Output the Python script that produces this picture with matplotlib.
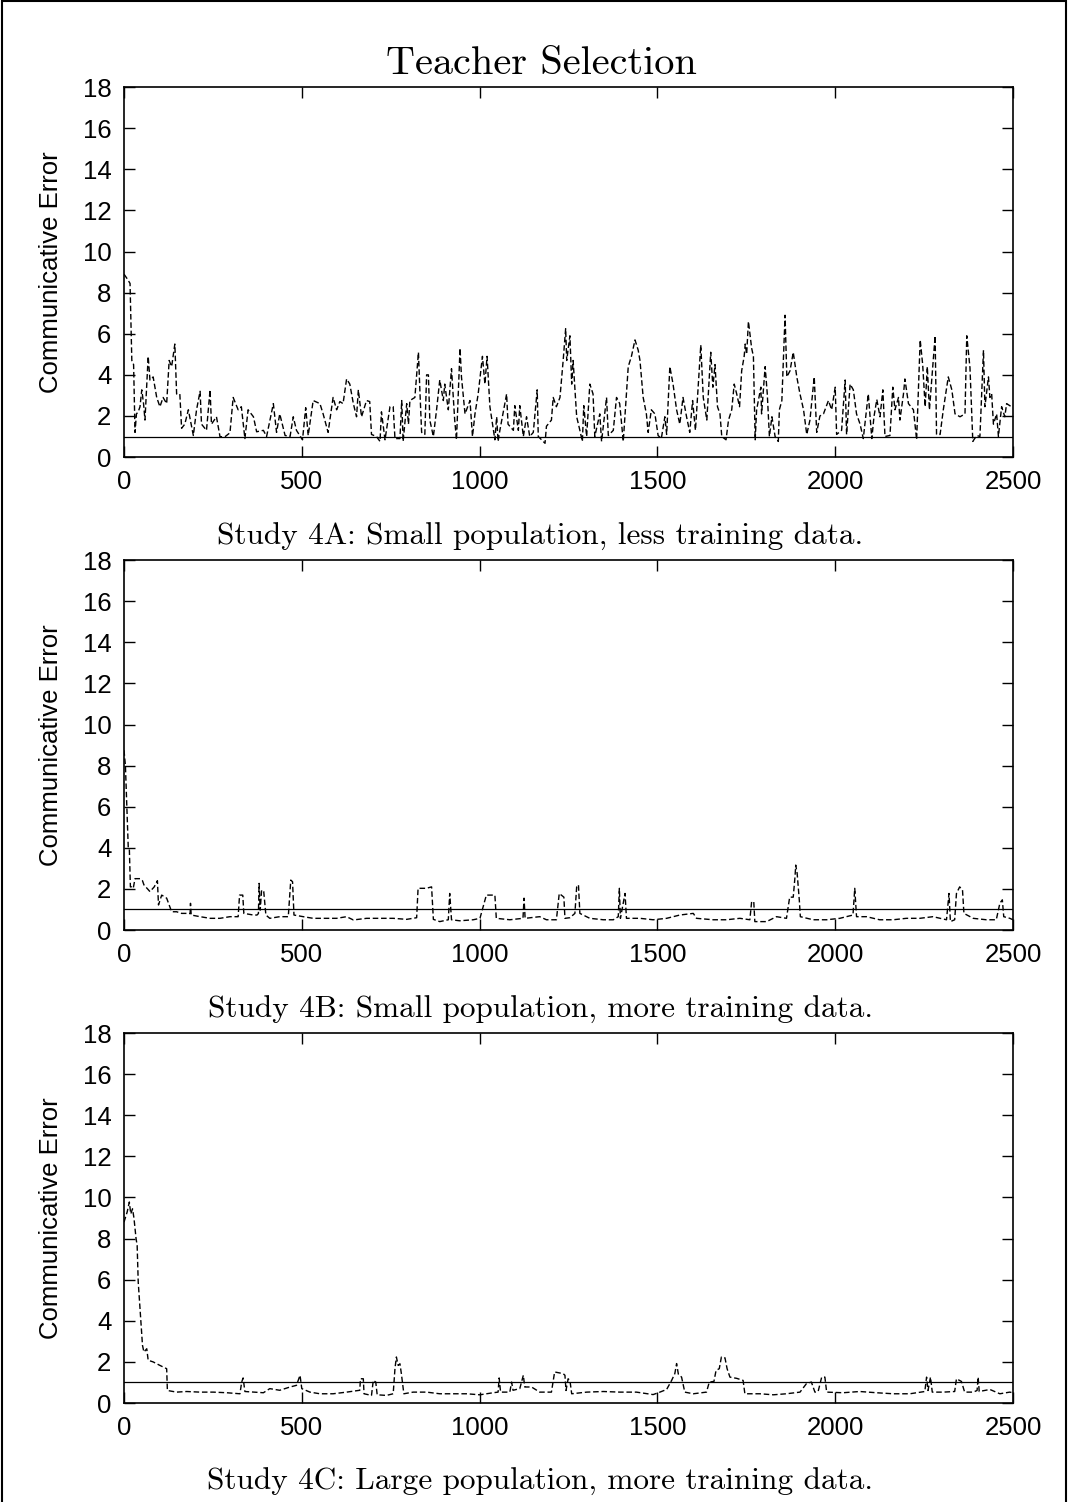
import matplotlib
matplotlib.use('Agg')
import matplotlib.pyplot as plt
import matplotlib.patches as patches

plt.rcParams['font.family'] = ['Liberation Sans', 'DejaVu Sans']

# Study 4A: small population, less training data
t_a = [0, 8, 17, 22, 27, 31, 35, 40, 45, 50, 55, 59, 68, 73, 82, 87, 92, 101, 110, 120,
       127, 134, 143, 148, 157, 162, 171, 181, 195, 204, 214, 218, 232, 242, 246, 260, 270,
       284, 298, 307, 321, 330, 340, 349, 364, 373, 392, 401, 420, 429, 438, 453, 467, 476,
       485, 502, 511, 518, 532, 551, 560, 574, 588, 598, 607, 616, 626, 635, 645, 654, 659,
       668, 682, 691, 696, 710, 720, 724, 734, 748, 757, 762, 776,
       781, 785, 795, 800, 804, 818, 828, 832, 837, 846, 851, 856, 860, 870, 879, 888, 898,
       902, 912, 921, 930, 935, 945, 949, 959, 973, 980, 987, 996, 1008, 1015, 1021, 1029,
       1043, 1048, 1052, 1057, 1076, 1080, 1095, 1099, 1109, 1113, 1123, 1132, 1141, 1151,
       1162, 1165, 1184, 1188, 1202, 1207, 1216, 1226, 1235, 1242, 1245, 1254, 1259, 1263,
       1273, 1282, 1289, 1293, 1301, 1310, 1319, 1324, 1338, 1343, 1357, 1362, 1376, 1385,
       1394, 1404, 1413, 1418, 1427, 1437, 1446, 1451, 1460, 1469, 1474, 1483, 1493, 1502,
       1511, 1521, 1526, 1535, 1544, 1554, 1563, 1572, 1582, 1591, 1599, 1607, 1615, 1622,
       1629, 1639, 1644, 1650, 1656, 1662, 1669, 1676, 1681, 1693, 1700, 1709, 1716, 1723,
       1731, 1737, 1744, 1747, 1751, 1756, 1765, 1770, 1775, 1779, 1791, 1793, 1803, 1809,
       1815, 1822, 1831, 1840, 1843, 1850, 1859, 1864, 1873, 1882, 1892, 1901, 1911, 1920,
       1929, 1941, 1948, 1957, 1967, 1981, 1990, 2000, 2004, 2018, 2028, 2032, 2042, 2051,
       2060, 2070, 2079, 2093, 2103, 2109, 2117, 2126, 2134, 2140, 2154, 2162, 2168, 2178,
       2182, 2192, 2196, 2206, 2220, 2229, 2239, 2246, 2253, 2259, 2265, 2281, 2285, 2295,
       2304, 2318, 2328, 2337, 2351, 2365, 2370, 2379, 2387, 2398, 2407, 2417, 2421, 2431,
       2435, 2440, 2445, 2454, 2459, 2468, 2477, 2482, 2491, 2500]
err_a = [8.9, 8.7, 8.45, 4.7, 4.5, 1.2, 2.1, 2.2, 2.45, 3.27, 2.6, 1.8, 4.9, 3.75, 3.9, 3.4,
         2.9, 2.45, 2.9, 2.6, 4.7, 4.4, 5.5, 3.07, 3.07, 1.4, 1.6, 2.3, 1.05, 2.3, 3.2, 1.6,
         1.3, 3.27, 1.6, 1.96, 0.99, 0.99, 1.18, 2.9, 2.3, 2.45, 0.9, 2.3, 1.96, 1.23, 1.3,
         1.0, 2.6, 1.2, 2.1, 1.05, 1.0, 1.96, 1.3, 0.84, 2.4, 1.05, 2.75, 2.6, 2.1, 1.2, 2.9,
         2.3, 2.7, 2.6, 3.8, 3.55, 2.6, 1.96, 3.27, 1.96, 2.75, 2.7, 1.1, 1.0, 0.76, 2.2,
         0.84, 2.45, 2.45, 0.9, 0.9,
         2.75, 0.76, 2.6, 1.6, 2.75, 2.9, 5.1, 3.27, 1.2, 1.1, 4.0, 4.0, 1.8, 1.0, 2.3, 3.75,
         2.75, 3.55, 2.3, 4.3, 1.8, 0.84, 5.3, 3.9, 2.1, 2.75, 1.0, 2.1, 3.07, 4.9, 3.55, 4.9,
         2.45, 0.84, 1.96, 0.76, 1.3, 3.07, 1.6, 1.3, 2.5, 1.3, 2.5, 1.0, 1.96, 1.0, 1.2,
         3.27, 1.0, 0.67, 1.5, 1.8, 2.9, 2.45, 2.9, 4.7, 6.25, 4.7, 5.9, 3.55, 4.7, 1.96, 1.3,
         0.76, 2.5, 1.0, 3.55, 3.07, 1.0, 2.1, 0.76, 2.9, 1.05, 1.3, 2.9, 2.6, 0.76, 3.07,
         4.4, 4.9, 5.7, 5.2, 4.7, 2.9, 2.1, 1.2, 2.3, 2.1, 1.05, 0.9, 1.96, 1.1, 4.4, 3.55,
         2.3, 1.6, 2.9, 1.96, 1.2, 2.75, 1.3, 3.55, 5.45, 2.9, 1.8, 3.27, 5.1, 3.4, 4.5, 2.45,
         2.1, 1.0, 0.84, 1.8, 2.3, 3.55, 3.07, 2.45, 4.2, 4.9, 5.5, 5.0, 6.6, 5.3, 4.9, 0.84,
         2.3, 3.4, 2.1, 4.4, 3.07, 1.0, 1.96, 1.0, 0.76, 2.3, 2.75, 6.9, 3.9, 4.2, 5.1, 3.9,
         3.07, 2.3, 1.1, 1.8, 3.9, 1.2, 2.0, 2.1, 2.75, 2.3, 3.4, 1.1, 1.3, 3.75, 1.1, 3.55,
         3.27, 2.1, 1.6, 0.9, 3.07, 0.9, 1.96, 2.8, 1.96, 3.27, 1.0, 1.05, 3.4, 2.3, 2.9,
         1.8, 3.07, 3.8, 2.6, 2.3, 0.84, 5.7, 4.5, 2.45, 4.4, 2.3, 5.9, 1.1, 1.1, 2.3, 3.9,
         3.27, 2.1, 1.96, 2.1, 5.9, 4.35, 0.76, 1.05, 1.0, 5.2, 2.45, 3.9, 2.9, 3.07, 1.6,
         2.1, 1.0, 2.45, 1.96, 2.6, 2.5, 2.4]

# Study 4B: small population, more training data
t_b = [0, 4, 8, 12, 15, 18, 21, 26, 31, 45, 52, 56, 73, 85, 94, 97, 106, 120, 129, 134,
       148, 162, 176, 186, 187, 189, 214, 242, 270, 298, 321, 325, 334, 337, 364, 374, 378,
       380, 383, 387, 393, 399, 410, 438, 462, 469, 474, 478, 504, 532, 570, 598, 626, 645,
       682, 720, 757, 795, 823, 827, 850, 865, 870, 888, 912, 916, 921, 944, 982, 1001,
       1019, 1043, 1047, 1085, 1122, 1125, 1128, 1169, 1188, 1216, 1224, 1237, 1240, 1254,
       1268, 1273, 1278, 1282, 1310, 1348, 1376, 1390, 1393, 1396, 1409, 1413, 1451, 1488,
       1526, 1563, 1601, 1610, 1657, 1694, 1732, 1760, 1765, 1771, 1774, 1807, 1835, 1863,
       1872, 1882, 1887, 1889, 1893, 1899, 1902, 1938, 1976, 2013, 2050, 2055, 2060, 2088,
       2125, 2163, 2200, 2238, 2275, 2313, 2320, 2324, 2336, 2341, 2350, 2358, 2362, 2388,
       2425, 2453, 2463, 2470, 2474, 2491, 2500]
err_b = [8.75, 8.0, 6.0, 4.0, 3.97, 2.1, 2.1, 2.03, 2.5, 2.5, 2.4, 2.2, 1.87, 2.1, 2.4, 1.22,
         1.7, 1.55, 1.13, 0.89, 0.89, 0.81, 0.81, 0.8, 1.3, 0.73, 0.65, 0.57, 0.57, 0.65,
         0.65, 1.7, 1.7, 0.81, 0.73, 0.73, 0.8, 2.27, 0.97, 1.95, 1.87, 0.73, 0.57, 0.65,
         0.65, 2.43, 2.35, 0.73, 0.65, 0.57, 0.57, 0.57, 0.65, 0.49, 0.57, 0.57, 0.57, 0.52,
         0.6, 2.03, 2.03, 2.1, 0.52, 0.41, 0.5, 1.78, 0.5, 0.45, 0.5, 0.57, 1.7, 1.7, 0.57,
         0.5, 0.57, 1.55, 0.57, 0.65, 0.5, 0.5, 1.78, 1.6, 0.57, 0.6, 0.81, 2.1, 2.2, 0.81,
         0.57, 0.5, 0.5, 0.65, 2.03, 0.57, 1.78, 0.57, 0.57, 0.5, 0.57, 0.73, 0.81, 0.57,
         0.5, 0.5, 0.57, 0.5, 1.38, 1.38, 0.41, 0.41, 0.65, 0.57, 1.6, 1.6, 2.6, 3.16, 2.76,
         1.47, 0.65, 0.5, 0.5, 0.57, 0.73, 2.03, 0.65, 0.65, 0.5, 0.5, 0.57, 0.57, 0.65, 0.5,
         1.78, 0.41, 0.5, 1.78, 2.1, 1.95, 0.81, 0.57, 0.5, 0.5, 1.3, 1.47, 0.65, 0.57, 0.5]

# Study 4C: large population, more training data
t_c = [0, 3, 9, 15, 19, 24, 28, 34, 37, 40, 45, 50, 52, 56, 64, 68, 82, 101, 120, 122, 148,
       176, 214, 251, 289, 326, 331, 335, 340, 364, 392, 410, 438, 467, 485, 495, 500, 523,
       551, 588, 626, 663, 665, 673, 675, 696, 701, 708, 712, 738, 757, 762, 766, 771, 776,
       780, 787, 813, 851, 888, 926, 963, 1001, 1038, 1052, 1055, 1059, 1085, 1090, 1094,
       1113, 1123, 1127, 1146, 1169, 1202, 1211, 1235, 1240, 1243, 1249, 1254, 1259, 1301,
       1348, 1395, 1441, 1488, 1507, 1526, 1540, 1549, 1554, 1559, 1568, 1577, 1601, 1638,
       1646, 1659, 1665, 1674, 1680, 1690, 1696, 1704, 1723, 1741, 1746, 1788, 1826, 1863,
       1901, 1919, 1933, 1943, 1952, 1962, 1971, 1976, 2022, 2069, 2116, 2163, 2210, 2252,
       2257, 2261, 2268, 2273, 2304, 2336, 2341, 2355, 2364, 2388, 2399, 2402, 2405, 2435,
       2463, 2491, 2500]
err_c = [8.8, 8.97, 9.3, 9.78, 9.2, 9.45, 9.0, 7.99, 7.67, 5.89, 4.6, 3.3, 2.81, 2.48, 2.64,
         2.08, 2.0, 1.83, 1.67, 0.61, 0.53, 0.56, 0.53, 0.53, 0.5, 0.45, 1.02, 1.22, 0.56,
         0.53, 0.5, 0.7, 0.62, 0.78, 0.86, 1.35, 0.7, 0.53, 0.45, 0.45, 0.53, 0.62, 1.18,
         1.18, 0.45, 0.37, 1.1, 1.02, 0.4, 0.37, 0.45, 1.67, 2.24, 1.83, 1.91, 1.43, 0.45,
         0.53, 0.53, 0.45, 0.45, 0.45, 0.4, 0.5, 0.53, 1.22, 0.53, 0.53, 1.02, 0.62, 0.7,
         1.35, 0.78, 0.78, 0.53, 0.53, 1.51, 1.43, 1.35, 0.61, 1.18, 1.1, 0.45, 0.53, 0.56,
         0.53, 0.53, 0.41, 0.53, 0.66, 1.1, 1.43, 1.92, 1.4, 1.26, 0.53, 0.45, 0.53, 1.02,
         1.05, 1.59, 1.67, 2.24, 2.2, 1.67, 1.26, 1.2, 1.1, 0.45, 0.45, 0.4, 0.45, 0.53, 0.94,
         1.02, 0.53, 0.56, 1.26, 1.26, 0.53, 0.5, 0.56, 0.5, 0.45, 0.45, 0.56, 1.26, 0.61,
         1.26, 0.53, 0.53, 0.56, 1.18, 1.05, 0.53, 0.53, 0.61, 1.26, 0.56, 0.66, 0.45, 0.53,
         0.5]

threshold = 1.0
y_ticks = list(range(0, 19, 2))
x_ticks = [0, 500, 1000, 1500, 2000, 2500]

captions = ['Study 4A: Small population, less training data.',
            'Study 4B: Small population, more training data.',
            'Study 4C: Large population, more training data.']

fig = plt.figure(figsize=(10.68, 15.02), dpi=100)

# frame round the whole figure
fig.patches.append(patches.Rectangle((0.0015, -0.01), 0.9965, 1.0095, transform=fig.transFigure,
                                     fill=False, edgecolor='black', linewidth=1.5))

panels = [(t_a, err_a, 0.6957), (t_b, err_b, 0.3808), (t_c, err_c, 0.0659)]
caption_y = [0.6425, 0.3276, 0.0133]

for (t, err, bottom), cap, cy in zip(panels, captions, caption_y):
    ax = fig.add_axes([0.1161, bottom, 0.8324, 0.2463])
    ax.axhline(threshold, color='black', linewidth=0.9)
    ax.plot(t, err, color='black', linewidth=1.0, linestyle=(0, (4, 2)))
    ax.set_xlim(0, 2500)
    ax.set_ylim(0, 18)
    ax.set_xticks(x_ticks)
    ax.set_yticks(y_ticks)
    ax.tick_params(direction='in', length=8, width=1, labelsize=18.5,
                   top=True, right=True, pad=9)
    for s in ax.spines.values():
        s.set_linewidth(1.2)
    ax.set_ylabel('Communicative Error', fontsize=18.5, labelpad=14)
    fig.text(0.506, cy, cap, ha='center', va='center', fontsize=22.5, family='cmr10')

fig.text(0.507, 0.9575, 'Teacher Selection', ha='center', va='center', fontsize=29, family='cmr10')

fig.savefig('out.png', dpi=100)
